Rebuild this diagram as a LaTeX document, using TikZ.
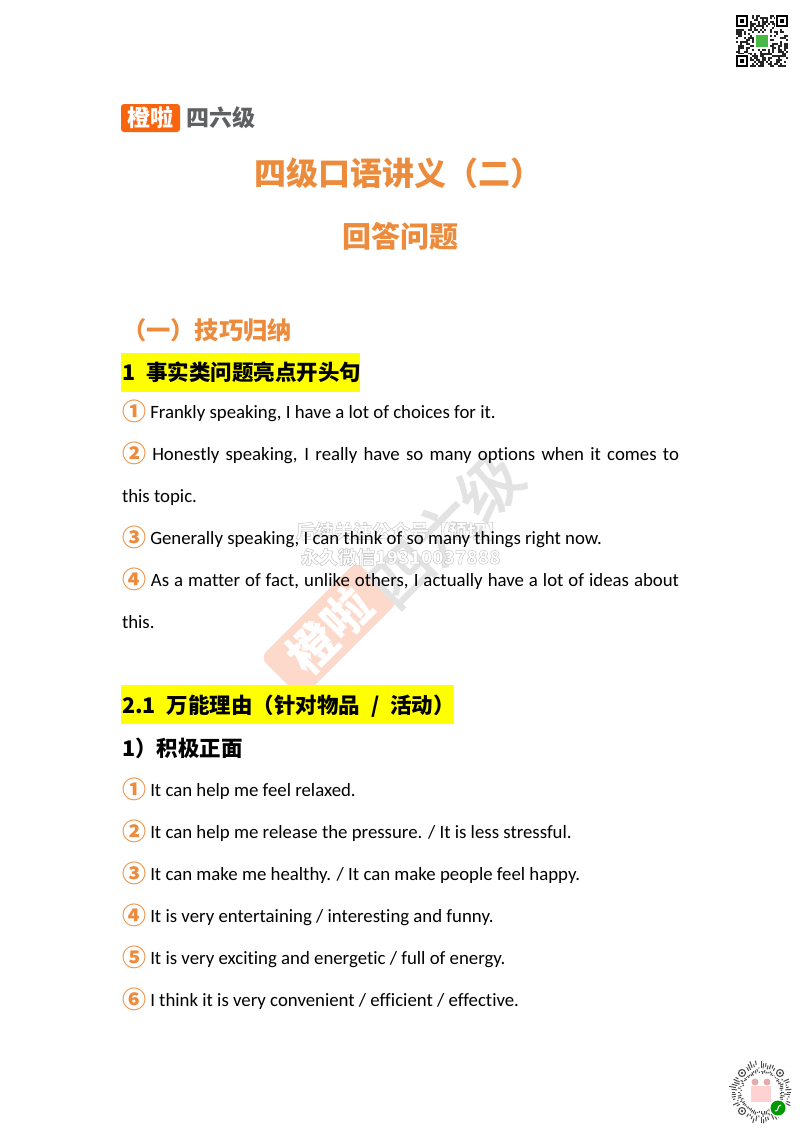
\documentclass[tikz,border=0pt]{standalone}
\usepackage{fontspec}
\setmainfont{Carlito}[Ligatures=NoCommon]
\newfontfamily\cjkreg{Noto Sans CJK SC}
\newcommand{\cjkbold}{\cjkreg\bfseries}
\usetikzlibrary{positioning}
\definecolor{titleorange}{HTML}{ED8B3C}
\definecolor{logoorange}{HTML}{F9650F}
\definecolor{logogray}{HTML}{5F6062}
\definecolor{markorange}{HTML}{FCD9CA}
\definecolor{markgray}{HTML}{E3E3E3}
\definecolor{headyellow}{HTML}{FFFF00}
\tikzstyle{every node}=[inner sep=0pt,outer sep=0pt,anchor=west]
\tikzstyle{title}=[text=titleorange,font=\cjkbold\fontsize{32}{32}\selectfont,anchor=center]
\tikzstyle{subtitle}=[text=titleorange,font=\cjkbold\fontsize{24.3}{25}\selectfont]
\tikzstyle{marker}=[fill=headyellow,minimum height=39]
\tikzstyle{headtext}=[text=black,font=\cjkbold\fontsize{21.5}{22}\selectfont]
\tikzstyle{bodyline}=[text=black,font=\fontsize{18.8}{20}\selectfont,anchor=base west]
\tikzstyle{marknote}=[anchor=center,text=white,font=\cjkbold\fontsize{19}{20}\selectfont]
\newcommand{\numcircle}[1]{\raisebox{-2.2pt}{\cjkbold\color{titleorange}\fontsize{24}{24}\selectfont#1}}
\newcommand{\bodyfull}[1]{\makebox[557pt][s]{#1}}
\newcommand{\outlined}{\special{pdf:code 2 Tr 0.5 w 0.78 G}}
\newcommand{\thickened}{\special{pdf:code 2 Tr 1.6 w 0.89 G}}
\begin{document}
\begin{tikzpicture}[x=1pt,y=-1pt]
  \useasboundingbox (0,0) rectangle (800,1132);
  \fill[white] (0,0) rectangle (800,1132);
  % logo
  \node[fill=logoorange,rounded corners=3,minimum width=59,minimum height=28,anchor=center,text=white,font=\cjkbold\fontsize{23}{23}\selectfont] (logo) at (150.5,118) {橙啦};
  \node[right=6 of logo,text=logogray,font=\cjkbold\fontsize{23}{23}\selectfont] (logotext) {四六级};
  % titles
  \node[title] (maintitle) at (398.5,173) {四级口语讲义（二）};
  \node[title,font=\cjkbold\fontsize{29}{29}\selectfont] (subhead) at (400,236) {回答问题};
  \node[subtitle] (skills) at (122,330) {（一）技巧归纳};
  % watermark
  \node[fill=markorange,rounded corners=8,minimum width=136,minimum height=58,rotate=45,anchor=center,text=white,font=\cjkbold\fontsize{48}{48}\selectfont] (markbox) at (329,630) {橙啦};
  \node[rotate=45,anchor=center,text=markgray,font=\cjkreg\fontsize{62}{62}\selectfont] (marktext) at (445,530) {\thickened 四六级};
  \node[marknote] (markone) at (400.5,531) {\outlined 后续关注公众号【预切】};
  \node[marknote,font=\cjkbold\fontsize{18.7}{20}\selectfont] (marktwo) at (400.5,557) {\outlined 永久微信19310037888};
  % yellow headings
  \node[marker,minimum width=239] (headone) at (121,372) {};
  \node[marker,minimum width=333] (headtwo) at (121,704) {};
  % heading text
  \node[headtext] (headonetext) at (122,372) {1\hspace{6pt} 事实类问题亮点开头句};
  \node[headtext] (headtwotext) at (122,706) {2.1\hspace{6pt} 万能理由（针对物品\hspace{6pt} /\hspace{6pt} 活动）};
  \node[headtext] (positive) at (122,748) {1）积极正面};
  % first list
  \node[bodyline] (tipa) at (122,418) {\numcircle{①} Frankly speaking, I have a lot of choices for it.};
  \node[bodyline] (tipb) at (122,460) {\bodyfull{\numcircle{②} Honestly speaking, I really have so many options when it comes to}};
  \node[bodyline] (tipbb) at (122,502) {this topic.};
  \node[bodyline] (tipc) at (122,544) {\numcircle{③} Generally speaking, I can think of so many things right now.};
  \node[bodyline] (tipd) at (122,586) {\bodyfull{\numcircle{④} As a matter of fact, unlike others, I actually have a lot of ideas about}};
  \node[bodyline] (tipdd) at (122,628) {this.};
  % second list
  \node[bodyline] (resa) at (122,796) {\numcircle{①} It can help me feel relaxed.};
  \node[bodyline] (resb) at (122,838) {\numcircle{②} It can help me release the pressure. / It is less stressful.};
  \node[bodyline] (resc) at (122,880) {\numcircle{③} It can make me healthy. / It can make people feel happy.};
  \node[bodyline] (resd) at (122,922) {\numcircle{④} It is very entertaining / interesting and funny.};
  \node[bodyline] (rese) at (122,964) {\numcircle{⑤} It is very exciting and energetic / full of energy.};
  \node[bodyline] (resf) at (122,1006) {\numcircle{⑥} I think it is very convenient / efficient / effective.};
  % top code
  \pgfmathsetseed{7}
  \foreach \i in {0,...,25}
    \foreach \j in {0,...,25}{
      \pgfmathparse{rnd>0.5?1:0}
      \ifnum\pgfmathresult=1
        \fill[black!85] (736+2*\i,15+2*\j) rectangle ++(2,2);
      \fi
    }
  \foreach \cx/\cy in {736/15,776/15,736/55}{
    \fill[white] (\cx-1,\cy-1) rectangle ++(15,15);
    \draw[black,line width=2] (\cx+1,\cy+1) rectangle ++(10,10);
    \fill[black] (\cx+4,\cy+4) rectangle ++(4,4);
  }
  \fill[white] (754,33) rectangle ++(16,16);
  \fill[green!45!gray] (756,35) rectangle ++(12,12);
  % bottom code
  \foreach \a in {0,5,...,355}{
    \pgfmathsetmacro{\ra}{18+rnd*3}
    \pgfmathsetmacro{\rb}{\ra+1+rnd*3}
    \pgfmathsetmacro{\rc}{\rb+2+rnd*2}
    \pgfmathsetmacro{\rd}{\rc+1+rnd*6}
    \draw[black!70,line width=1] ({761+\ra*cos(\a)},{1092+\ra*sin(\a)}) -- ({761+\rb*cos(\a)},{1092+\rb*sin(\a)});
    \draw[black!70,line width=1] ({761+\rc*cos(\a)},{1092+\rc*sin(\a)}) -- ({761+\rd*cos(\a)},{1092+\rd*sin(\a)});
  }
  \fill[white] (761,1092) circle (16);
  \foreach \cx/\cy in {742/1073,780/1073,742/1111}{
    \fill[white] (\cx,\cy) circle (6);
    \draw[black!70,line width=1.1] (\cx,\cy) circle (3.5);
    \fill[black!70] (\cx,\cy) circle (1.4);
  }
  \fill[pink!70] (751,1086) rectangle (771,1102);
  \fill[pink!90!black] (755,1082) circle (3.5);
  \fill[pink!90!black] (767,1082) circle (3.5);
  \fill[white] (778,1108) circle (9);
  \fill[green!60!black] (778,1108) circle (7.5);
  \draw[white,line width=1] (775,1111) .. controls (779,1112) and (777,1105) .. (781,1105);
\end{tikzpicture}
\end{document}
